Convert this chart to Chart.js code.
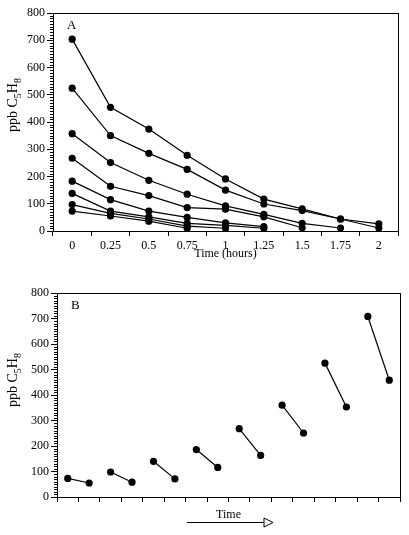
<!DOCTYPE html>
<html>
<head>
<meta charset="utf-8">
<script src="https://cdn.jsdelivr.net/npm/chart.js@4/dist/chart.umd.min.js"></script>
<style>
  html, body { margin: 0; padding: 0; background: #fff; }
  .panel { position: absolute; left: 0; }
  #wrapA { top: 0; }
  #wrapB { top: 270px; }
</style>
</head>
<body>
<div class="panel" id="wrapA"><canvas id="chartA" width="409" height="270"></canvas></div>
<div class="panel" id="wrapB"><canvas id="chartB" width="409" height="265"></canvas></div>
<script>
// panel A: decay runs, ppb vs hours
const hours = ['0', '0.25', '0.5', '0.75', '1', '1.25', '1.5', '1.75', '2'];
const run1 = [704, 454, 374, 278, 191, 117, 81, 44, 26];
const run2 = [524, 350, 285, 226, 150, 99, 75, 44, 11];
const run3 = [357, 251, 186, 135, 92, 61, 28, 11, null];
const run4 = [267, 164, 130, 86, 80, 52, 12, null, null];
const run5 = [183, 115, 73, 50, 30, 16, null, null, null];
const run6 = [138, 73, 52, 28, 21, 10, null, null, null];
const run7 = [97, 65, 44, 18, 10, null, null, null, null];
const run8 = [73, 55, 36, 10, null, null, null, null, null];

// panel B: start/end pairs along time
const pairStart = [73, 98, 140, 186, 268, 360, 525, 708];
const pairEnd = [55, 58, 71, 116, 163, 251, 353, 458];
const slotsB = Array(16).fill('');

const yTicks = [0, 100, 200, 300, 400, 500, 600, 700, 800];

Chart.defaults.font.family = "'Liberation Serif', 'Times New Roman', serif";
Chart.defaults.font.size = 12;
Chart.defaults.color = '#000';

const lineStyle = {
  borderColor: '#000',
  borderWidth: 1.2,
  pointBackgroundColor: '#000',
  pointBorderWidth: 0,
  pointRadius: 3.6,
  tension: 0,
  spanGaps: false
};

const frame = {
  id: 'frame',
  afterDatasetsDraw(chart) {
    const { ctx, chartArea: a } = chart;
    ctx.save();
    ctx.strokeStyle = '#000';
    ctx.lineWidth = 1;
    ctx.strokeRect(Math.round(a.left) + 0.5, Math.round(a.top) + 0.5,
      Math.round(a.right - a.left), Math.round(a.bottom - a.top));
    ctx.restore();
  }
};

const minorTicks = {
  id: 'minorTicks',
  afterDraw(chart) {
    const { ctx, scales: { y } } = chart;
    ctx.save();
    ctx.strokeStyle = '#000';
    ctx.lineWidth = 1;
    ctx.beginPath();
    for (let v = 0; v <= 800; v += 10) {
      if (v % 100 === 0) continue;
      const py = Math.round(y.getPixelForValue(v)) + 0.5;
      ctx.moveTo(y.right - 3, py);
      ctx.lineTo(y.right, py);
    }
    ctx.stroke();
    ctx.restore();
  }
};

// letter + y title with subscripts
const decor = {
  id: 'decor',
  afterDraw(chart, args, opts) {
    const { ctx, chartArea: a } = chart;
    ctx.save();
    ctx.fillStyle = '#000';
    ctx.font = "13px 'Liberation Serif'";
    ctx.textBaseline = 'alphabetic';
    ctx.fillText(opts.letter, a.left + 14, a.top + 16);

    const big = "14px 'Liberation Serif'";
    const small = "10px 'Liberation Serif'";
    const parts = [['ppb C', big, 0], ['5', small, 4], ['H', big, 0], ['8', small, 4]];
    let w = 0;
    parts.forEach(p => { ctx.font = p[1]; w += ctx.measureText(p[0]).width; });
    ctx.translate(17, opts.titleY);
    ctx.rotate(-Math.PI / 2);
    let x = -w / 2;
    parts.forEach(p => {
      ctx.font = p[1];
      ctx.fillText(p[0], x, p[2]);
      x += ctx.measureText(p[0]).width;
    });
    ctx.restore();

    if (opts.arrow) {
      ctx.save();
      ctx.strokeStyle = '#000';
      ctx.lineWidth = 1;
      ctx.beginPath();
      ctx.moveTo(187, 252.5);
      ctx.lineTo(264, 252.5);
      ctx.stroke();
      ctx.beginPath();
      ctx.moveTo(264, 248);
      ctx.lineTo(273, 252.5);
      ctx.lineTo(264, 257);
      ctx.closePath();
      ctx.fillStyle = '#fff';
      ctx.fill();
      ctx.stroke();
      ctx.restore();
    }
  }
};

function yScale(width) {
  return {
    min: 0,
    max: 800,
    afterBuildTicks: s => { s.ticks = yTicks.map(v => ({ value: v })); },
    ticks: { padding: 2, font: { size: 12 } },
    grid: { drawOnChartArea: false, tickLength: 6, color: '#000' },
    border: { color: '#000', width: 1 },
    afterFit: s => { s.width = width; }
  };
}

new Chart(document.getElementById('chartA'), {
  type: 'line',
  data: {
    labels: hours,
    datasets: [run1, run2, run3, run4, run5, run6, run7, run8].map(d => ({ data: d, ...lineStyle }))
  },
  options: {
    responsive: false,
    animation: false,
    layout: { padding: { top: 13, right: 11, left: 0, bottom: 0 } },
    plugins: {
      legend: { display: false },
      tooltip: { enabled: false },
      decor: { letter: 'A', titleY: 105 }
    },
    scales: {
      x: {
        type: 'category',
        offset: true,
        ticks: { padding: 3, maxRotation: 0, autoSkip: false },
        grid: { offset: true, drawOnChartArea: false, tickLength: 5, color: '#000' },
        border: { color: '#000', width: 1 },
        title: { display: true, text: 'Time (hours)', font: { size: 12 }, padding: { top: 0, bottom: 9 } },
        afterFit: s => { s.height = 39; }
      },
      y: yScale(53)
    }
  },
  plugins: [frame, minorTicks, decor]
});

new Chart(document.getElementById('chartB'), {
  type: 'line',
  data: {
    labels: slotsB,
    datasets: pairStart.map((v, i) => {
      const d = slotsB.map(() => null);
      d[2 * i] = v;
      d[2 * i + 1] = pairEnd[i];
      return { data: d, ...lineStyle };
    })
  },
  options: {
    responsive: false,
    animation: false,
    layout: { padding: { top: 23, right: 9, left: 0, bottom: 0 } },
    plugins: {
      legend: { display: false },
      tooltip: { enabled: false },
      decor: { letter: 'B', titleY: 110, arrow: true }
    },
    scales: {
      x: {
        type: 'category',
        offset: true,
        ticks: { display: false },
        grid: { offset: true, drawOnChartArea: false, tickLength: 5, color: '#000' },
        border: { color: '#000', width: 1 },
        title: { display: true, text: 'Time', font: { size: 12 }, padding: { top: 0, bottom: 13 } },
        afterFit: s => { s.height = 38; }
      },
      y: yScale(57)
    }
  },
  plugins: [frame, minorTicks, decor]
});
</script>
</body>
</html>
